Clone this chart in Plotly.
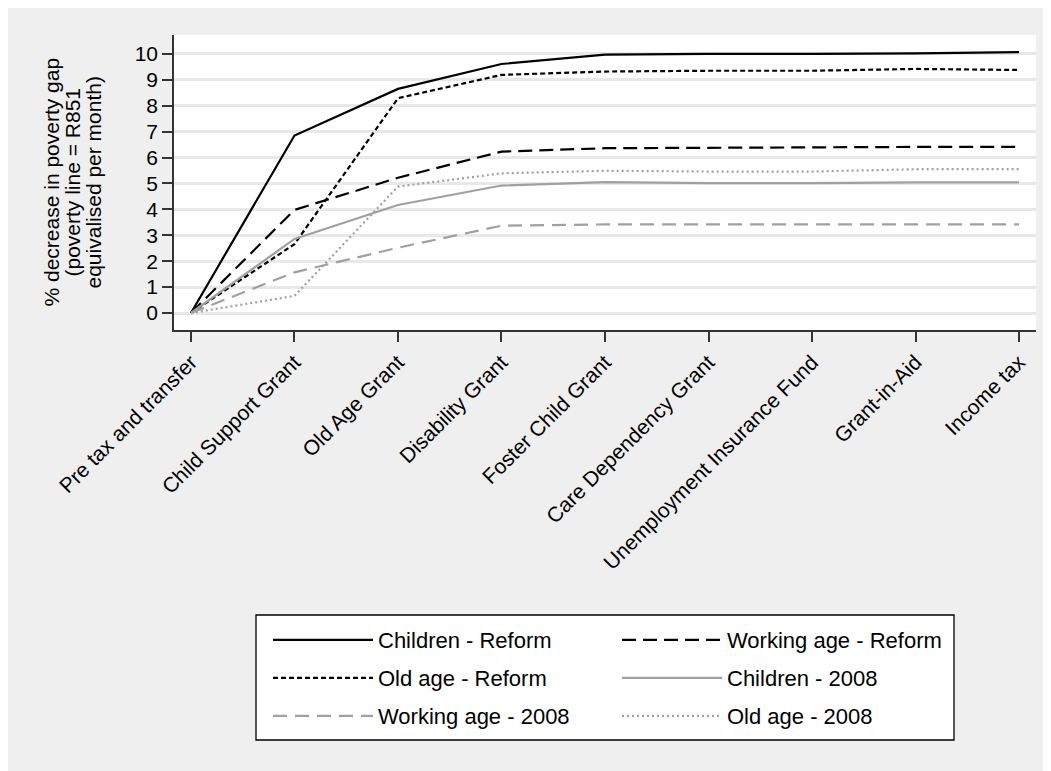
import plotly.graph_objects as go

categories = ["Pre tax and transfer", "Child Support Grant", "Old Age Grant",
              "Disability Grant", "Foster Child Grant", "Care Dependency Grant",
              "Unemployment Insurance Fund", "Grant-in-Aid", "Income tax"]

children_reform = [0, 6.85, 8.65, 9.61, 9.97, 10.0, 10.0, 10.02, 10.07]
working_reform = [0, 3.98, 5.22, 6.23, 6.36, 6.38, 6.38, 6.41, 6.41]
old_reform = [0, 2.66, 8.29, 9.19, 9.32, 9.35, 9.35, 9.42, 9.38]
children_2008 = [0, 2.86, 4.17, 4.92, 5.05, 5.01, 5.01, 5.04, 5.04]
working_2008 = [0, 1.57, 2.52, 3.37, 3.42, 3.42, 3.42, 3.42, 3.42]
old_2008 = [0, 0.66, 4.88, 5.39, 5.49, 5.46, 5.46, 5.55, 5.55]

y_ticks = list(range(0, 11))

FONT = "Liberation Sans, Arial, sans-serif"
BLACK = "#000000"
GREY = "#A0A0A0"
BG = "#EFEFEF"

# figure size (page has an 8px body margin; figure runs past the window edge)
W, H = 1051, 771
ML, MR, MT, MB = 166, 23, 27, 449
PW = W - ML - MR
PH = H - MT - MB
OFF = 8  # screenshot offset of the figure


def px_x(sx):
    return (sx - OFF - ML) / PW


def px_y(sy):
    return (H - MB - (sy - OFF)) / PH


x_idx = list(range(len(categories)))

series = [
    ("Children - Reform", children_reform, BLACK, "solid", 2.2, "legend"),
    ("Working age - Reform", working_reform, BLACK, "14px,7px", 2.2, "legend"),
    ("Old age - Reform", old_reform, BLACK, "5px,3px", 2.2, "legend2"),
    ("Children - 2008", children_2008, GREY, "solid", 2.2, "legend2"),
    ("Working age - 2008", working_2008, GREY, "14px,8px", 2.2, "legend3"),
    ("Old age - 2008", old_2008, GREY, "2px,3px", 2.2, "legend3"),
]

fig = go.Figure()
for name, vals, col, dash, w, lg in series:
    fig.add_trace(go.Scatter(
        x=x_idx, y=vals, mode="lines", name=name,
        line=dict(color=col, width=w, dash=dash),
        legend=lg,
    ))

legend_common = dict(
    orientation="h", bgcolor="rgba(0,0,0,0)", borderwidth=0,
    font=dict(family=FONT, size=22, color="#000"),
    itemwidth=100, entrywidth=234, entrywidthmode="pixels",
    xanchor="left", yanchor="middle",
    itemclick=False, itemdoubleclick=False,
)

shapes = [
    # legend box
    dict(type="rect", xref="paper", yref="paper",
         x0=px_x(256), x1=px_x(954), y0=px_y(740), y1=px_y(615),
         fillcolor="#FFFFFF", line=dict(color="#000", width=1.3), layer="below"),
]

title_lines = ["% decrease in poverty gap", "(poverty line = R851",
               "equivalised per month)"]
title_x = [51, 72, 93]
annotations = []
for t, xp in zip(title_lines, title_x):
    annotations.append(dict(
        text=t, x=px_x(xp), y=0.5, xref="paper", yref="paper",
        textangle=-90, showarrow=False, xanchor="center", yanchor="middle",
        font=dict(family=FONT, size=21, color="#000"),
    ))

fig.update_layout(
    width=W, height=H,
    margin=dict(l=ML, r=MR, t=MT, b=MB, pad=0),
    paper_bgcolor=BG,
    plot_bgcolor="#FFFFFF",
    font=dict(family=FONT, size=21, color="#000"),
    showlegend=True,
    legend=dict(legend_common, x=px_x(268), y=px_y(640)),
    legend2=dict(legend_common, x=px_x(268), y=px_y(678)),
    legend3=dict(legend_common, x=px_x(268), y=px_y(716)),
    shapes=shapes,
    annotations=annotations,
    xaxis=dict(
        range=[-0.164, 8.164], tickmode="array", tickvals=x_idx, ticktext=categories,
        tickangle=-45, showline=True, linecolor="#333", linewidth=1.5,
        ticks="outside", ticklen=10, tickwidth=1.5, tickcolor="#333",
        showgrid=False, zeroline=False, fixedrange=True,
        tickfont=dict(family=FONT, size=21, color="#000"),
    ),
    yaxis=dict(
        range=[-0.656, 10.73], tickmode="array", tickvals=y_ticks,
        showline=True, linecolor="#333", linewidth=1.5,
        ticks="outside", ticklen=10, tickwidth=1.5, tickcolor="#333",
        showgrid=True, gridcolor="#E8E8E8", gridwidth=2.5,
        zeroline=False, fixedrange=True,
        tickfont=dict(family=FONT, size=21, color="#000"),
    ),
)

fig.write_html("out.html")
